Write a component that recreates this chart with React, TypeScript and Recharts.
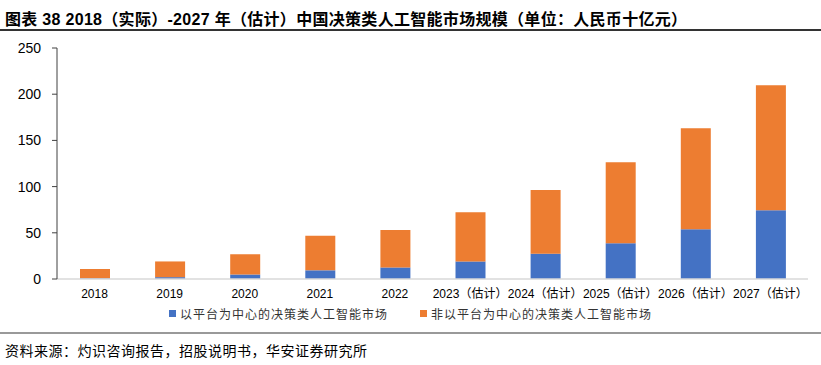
import { Bar, BarChart, XAxis, YAxis } from 'recharts';

const years = ['2018', '2019', '2020', '2021', '2022', '2023（估计）', '2024（估计）', '2025（估计）', '2026（估计）', '2027（估计）'];
const platformAI = [0.8, 2, 5, 9.4, 12.5, 19, 27.4, 38.6, 53.8, 74.4];
const nonPlatformAI = [10, 17, 21.7, 37.5, 40.5, 53.2, 68.9, 87.8, 109.4, 135.3];
const yTicks = [0, 50, 100, 150, 200, 250];

const seriesNames = ['以平台为中心的决策类人工智能市场', '非以平台为中心的决策类人工智能市场'];
const colors = ['#4472C4', '#ED7D31'];

const data = years.map((year, i) => ({
    year,
    platform: platformAI[i],
    nonPlatform: nonPlatformAI[i],
}));

const cjk = '"Liberation Sans", Arial, "Noto Sans CJK SC", sans-serif';

export default function App() {
    return (
        <div style={{ position: 'absolute', left: 0, top: 0, width: 821, height: 365, background: '#fff', fontFamily: cjk }}>
            <div style={{ position: 'absolute', left: 5, top: 6, fontSize: 16, fontWeight: 700, color: '#000', whiteSpace: 'nowrap', letterSpacing: 0.3 }}>
                图表 38 2018（实际）-2027 年（估计）中国决策类人工智能市场规模（单位：人民币十亿元）
            </div>
            <div style={{ position: 'absolute', left: 0, top: 29, width: 821, height: 2, background: '#333' }} />

            <div style={{ position: 'absolute', left: 0, top: 0 }}>
                <BarChart
                    width={821}
                    height={300}
                    data={data}
                    margin={{ top: 48, right: 13, bottom: 1, left: 7 }}
                    barSize={30}
                >
                    <XAxis
                        dataKey="year"
                        type="category"
                        height={20}
                        tickLine={false}
                        axisLine={{ stroke: '#d9d9d9', strokeWidth: 1.5 }}
                        tick={{ fontSize: 12, fill: '#000', fontFamily: cjk }}
                        tickMargin={4}
                        interval={0}
                    />
                    <YAxis
                        width={50}
                        domain={[0, 250]}
                        ticks={yTicks}
                        tickSize={5}
                        tickMargin={11}
                        axisLine={{ stroke: '#404040' }}
                        tickLine={{ stroke: '#404040' }}
                        tick={{ fontSize: 14, fill: '#000', fontFamily: cjk }}
                    />
                    <Bar dataKey="platform" stackId="a" fill={colors[0]} name={seriesNames[0]} isAnimationActive={false} />
                    <Bar dataKey="nonPlatform" stackId="a" fill={colors[1]} name={seriesNames[1]} isAnimationActive={false} />
                </BarChart>
            </div>

            <div style={{ position: 'absolute', left: 0, top: 305, width: 821, display: 'flex', justifyContent: 'center', fontSize: 12, color: '#333', letterSpacing: 1 }}>
                {seriesNames.map((name, i) => (
                    <div key={name} style={{ display: 'flex', alignItems: 'center', marginLeft: i ? 32 : 0 }}>
                        <span style={{ width: 7, height: 7, background: colors[i], marginRight: 4, display: 'inline-block' }} />
                        <span>{name}</span>
                    </div>
                ))}
            </div>

            <div style={{ position: 'absolute', left: 0, top: 332, width: 821, height: 2, background: '#999' }} />
            <div style={{ position: 'absolute', left: 5, top: 340, fontSize: 14, color: '#000', letterSpacing: 0.5, whiteSpace: 'nowrap' }}>
                资料来源：灼识咨询报告，招股说明书，华安证券研究所
            </div>
        </div>
    );
}
